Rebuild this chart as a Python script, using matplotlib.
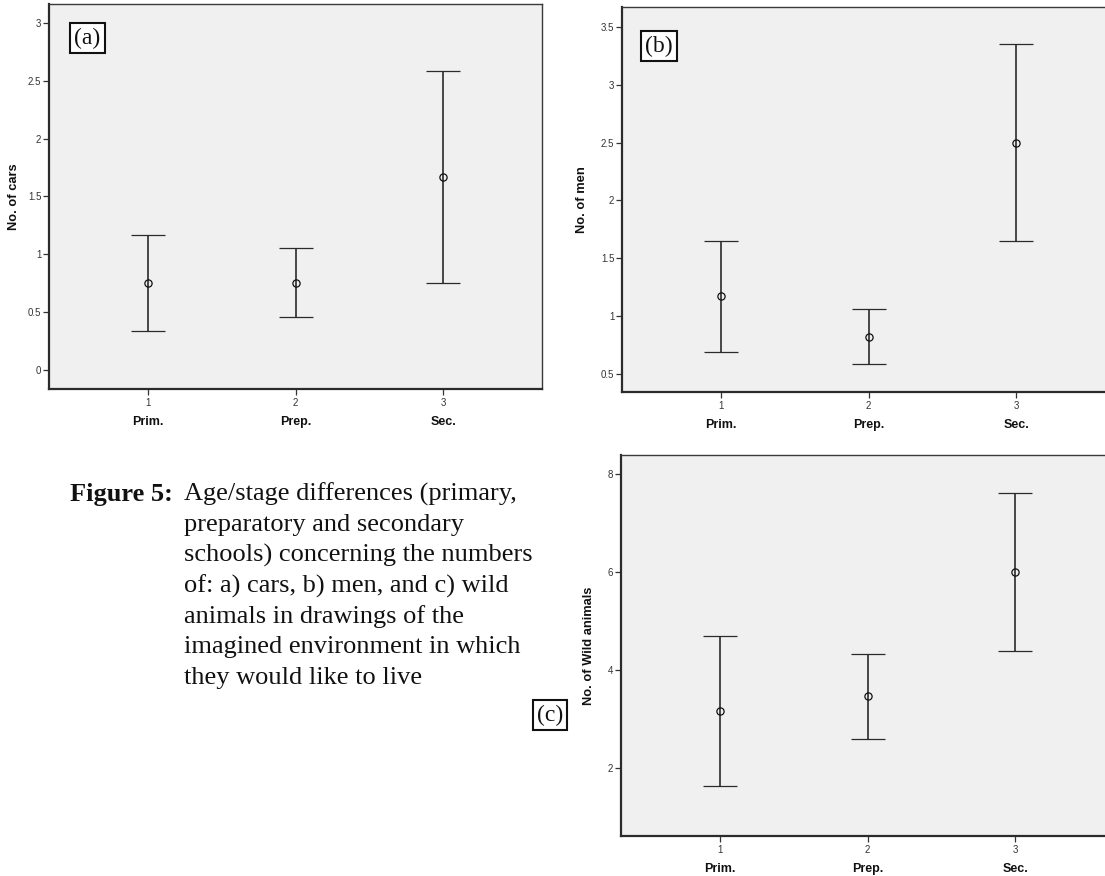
import matplotlib
matplotlib.use("Agg")
import matplotlib.pyplot as plt
from matplotlib.ticker import FuncFormatter
import numpy as np

# ---------------- data ----------------
groups = [1, 2, 3]
group_names = ["Prim.", "Prep.", "Sec."]

cars_mean = [0.75, 0.75, 1.67]
cars_low = [0.34, 0.46, 0.75]
cars_high = [1.17, 1.05, 2.59]

men_mean = [1.17, 0.82, 2.50]
men_low = [0.69, 0.59, 1.65]
men_high = [1.65, 1.06, 3.35]

wild_mean = [3.17, 3.46, 6.00]
wild_low = [1.63, 2.60, 4.38]
wild_high = [4.70, 4.33, 7.62]

ylabels = ["No. of cars", "No. of men", "No. of Wild animals"]
panel_tags = ["(a)", "(b)", "(c)"]
yticks_a = [0, 0.5, 1, 1.5, 2, 2.5, 3]
yticks_b = [0.5, 1, 1.5, 2, 2.5, 3, 3.5]
yticks_c = [2, 4, 6, 8]

caption_head = "Figure 5:"
caption_lines = [
    "Age/stage differences (primary,",
    "preparatory and secondary",
    "schools) concerning the numbers",
    "of: a) cars, b) men, and c) wild",
    "animals in drawings of the",
    "imagined environment in which",
    "they would like to live",
]

# ---------------- figure ----------------
W, H = 1105, 876
fig = plt.figure(figsize=(W / 100, H / 100), dpi=100)
fig.patch.set_facecolor("white")


def px_axes(left, top, right, bottom):
    return [left / W, 1 - bottom / H, (right - left) / W, (bottom - top) / H]


sans = ["Liberation Sans", "DejaVu Sans"]
serif = ["Liberation Serif", "DejaVu Serif"]

fmt = FuncFormatter(lambda v, p: "%g" % v)


def draw_panel(rect, mean, low, high, ylabel, yticks, ylim, ylabel_x):
    ax = fig.add_axes(rect)
    ax.set_facecolor("#f0f0f0")
    mean = np.array(mean)
    err = np.vstack([mean - np.array(low), np.array(high) - mean])
    ax.errorbar(groups, mean, yerr=err, fmt="o", mfc="none", mec="#111111",
                ms=5.2, mew=0.9, ecolor="#2a2a2a", elinewidth=1.2,
                capsize=12.2, capthick=1.2, zorder=3)
    ax.set_xlim(1 - 2 / 3, 3 + 2 / 3)
    ax.set_ylim(*ylim)
    ax.set_xticks(groups)
    ax.set_xticklabels([str(g) for g in groups])
    ax.set_yticks(yticks)
    ax.yaxis.set_major_formatter(fmt)
    for lab in ax.get_xticklabels() + ax.get_yticklabels():
        lab.set_family(sans)
        lab.set_fontsize(7)
        lab.set_color("#333333")
    ax.tick_params(axis="both", direction="out", length=4, width=0.9,
                   color="#333333", pad=1.5)
    ax.tick_params(axis="x", pad=2.5)
    for s in ["left", "bottom"]:
        ax.spines[s].set_linewidth(1.6)
        ax.spines[s].set_color("#2b2b2b")
    for s in ["top", "right"]:
        ax.spines[s].set_linewidth(1.0)
        ax.spines[s].set_color("#3a3a3a")
    ax.set_ylabel(ylabel, fontsize=9.3, fontweight="bold", family=sans,
                  color="#111111")
    ax.yaxis.set_label_coords(ylabel_x, 0.5)
    for g, name in zip(groups, group_names):
        ax.text(g, -0.087, name, transform=ax.get_xaxis_transform(),
                ha="center", va="center", fontsize=9, fontweight="bold",
                family=sans, color="#111111")
    return ax


axA = draw_panel(px_axes(49, 4, 542, 389), cars_mean, cars_low, cars_high,
                 ylabels[0], yticks_a, (-0.166, 3.166), -0.058)
axB = draw_panel(px_axes(622, 7, 1115, 392), men_mean, men_low, men_high,
                 ylabels[1], yticks_b, (0.344, 3.673), -0.069)
axC = draw_panel(px_axes(621, 455, 1114, 836), wild_mean, wild_low, wild_high,
                 ylabels[2], yticks_c, (0.61, 8.39), -0.053)

# panel tags
tag_pos = [(87.5, 38), (659, 46), (550, 715)]
for tag, (x, y) in zip(panel_tags, tag_pos):
    fig.text(x / W, 1 - y / H, tag, ha="center", va="center", family=serif,
             fontsize=17, color="#111111",
             bbox=dict(boxstyle="square,pad=0.18", fc="white", ec="#111111",
                       lw=1.5))

# caption
base0 = 501
step = 30.5
fig.text(70 / W, 1 - base0 / H, caption_head, ha="left", va="baseline",
         family=serif, fontsize=19, fontweight="bold", color="#111111")
for i, line in enumerate(caption_lines):
    fig.text(184 / W, 1 - (base0 + i * step) / H, line, ha="left",
             va="baseline", family=serif, fontsize=19, color="#111111")

fig.savefig("out.png", dpi=100, facecolor="white")
